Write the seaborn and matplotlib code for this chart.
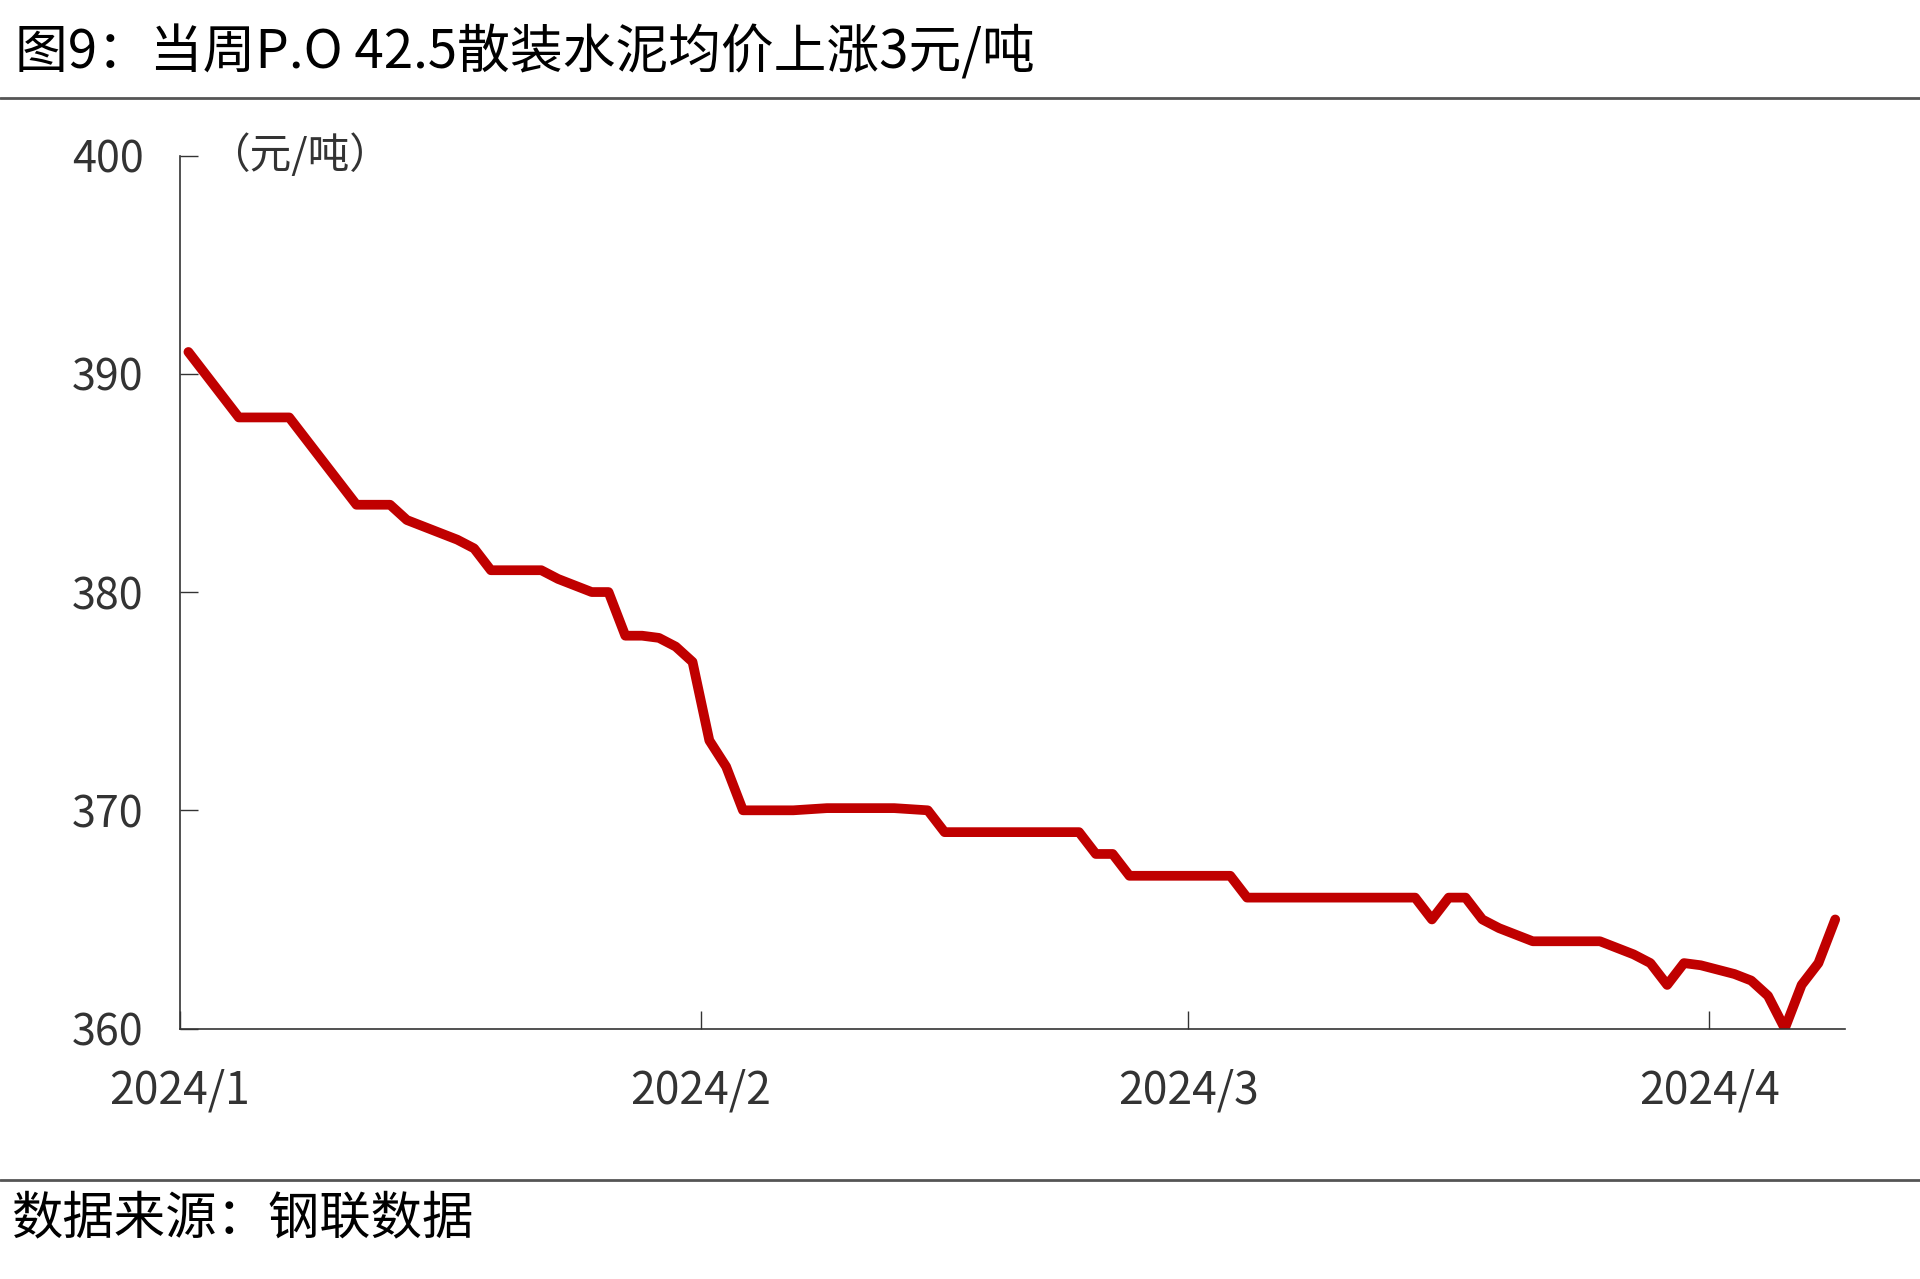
import pandas as pd
import matplotlib.pyplot as plt
import seaborn as sns
from matplotlib.lines import Line2D

# daily average price of P.O 42.5 bulk cement (yuan/ton)
start_date = "2024-01-01"
price = [
    391, 390, 389, 388, 388, 388, 388, 387, 386, 385,
    384, 384, 384, 383.3, 383, 382.7, 382.4, 382, 381, 381,
    381, 381, 380.6, 380.3, 380, 380, 378, 378, 377.9, 377.5,
    376.8, 373.2, 372, 370, 370, 370, 370, 370.05, 370.1, 370.1,
    370.1, 370.1, 370.1, 370.05, 370, 369, 369, 369, 369, 369,
    369, 369, 369, 369, 368, 368, 367, 367, 367, 367,
    367, 367, 367, 366, 366, 366, 366, 366, 366, 366,
    366, 366, 366, 366, 365, 366, 366, 365, 364.6, 364.3,
    364, 364, 364, 364, 364, 363.7, 363.4, 363, 362, 363,
    362.9, 362.7, 362.5, 362.2, 361.5, 360, 362, 363, 365,
]
y_ticks = [360, 370, 380, 390, 400]
x_tick_dates = ["2024-01-01", "2024-02-01", "2024-03-01", "2024-04-01"]
x_tick_labels = ["2024/1", "2024/2", "2024/3", "2024/4"]
title = "图9：当周P.O 42.5散装水泥均价上涨3元/吨"
unit = "（元/吨）"
source = "数据来源：钢联数据"

df = pd.DataFrame({
    "date": pd.date_range(start_date, periods=len(price), freq="D") + pd.Timedelta(hours=12),
    "price": price,
})

sns.set_theme(style="white")
plt.rcParams["font.family"] = ["Noto Sans CJK SC", "DejaVu Sans"]

fig = plt.figure(figsize=(19.2, 12.79), dpi=100)
ax = fig.add_axes([0.09375, 0.1958, 0.8672, 0.6826])

# the price line
sns.lineplot(data=df, x="date", y="price", ax=ax, color="#C00000", linewidth=7,
             solid_capstyle="round", solid_joinstyle="round")

ax.set_xlim(pd.Timestamp("2024-01-01"), pd.Timestamp("2024-04-09 02:00"))
ax.set_ylim(360, 400)
ax.set_yticks(y_ticks)
ax.set_xticks(pd.to_datetime(x_tick_dates))
ax.set_xticklabels(x_tick_labels)
ax.set_xlabel("")
ax.set_ylabel("")

for side in ["top", "right"]:
    ax.spines[side].set_visible(False)
for side in ["left", "bottom"]:
    ax.spines[side].set_color("#333333")
    ax.spines[side].set_linewidth(1.2)

ax.tick_params(axis="y", direction="in", length=13, width=1, color="#333333",
               pad=26, labelsize=31, labelcolor="#333333", left=True)
ax.tick_params(axis="x", direction="in", length=13, width=1, color="#333333",
               pad=28, labelsize=32, labelcolor="#333333", bottom=True)

# title, unit, source and separator lines
fig.text(0.008, 1 - 53 / 1279, title, va="center", ha="left", fontsize=38, color="black")
fig.add_artist(Line2D([0, 1], [1 - 98 / 1279] * 2, color="#555555", lw=2, transform=fig.transFigure))
fig.text(208 / 1920, 1 - 155 / 1279, unit, va="center", ha="left", fontsize=30, color="#333333")
fig.add_artist(Line2D([0, 1], [1 - 1180 / 1279] * 2, color="#555555", lw=2, transform=fig.transFigure))
fig.text(0.006, 1 - 1219 / 1279, source, va="center", ha="left", fontsize=37, color="black")

fig.savefig("out.png", dpi=100)
